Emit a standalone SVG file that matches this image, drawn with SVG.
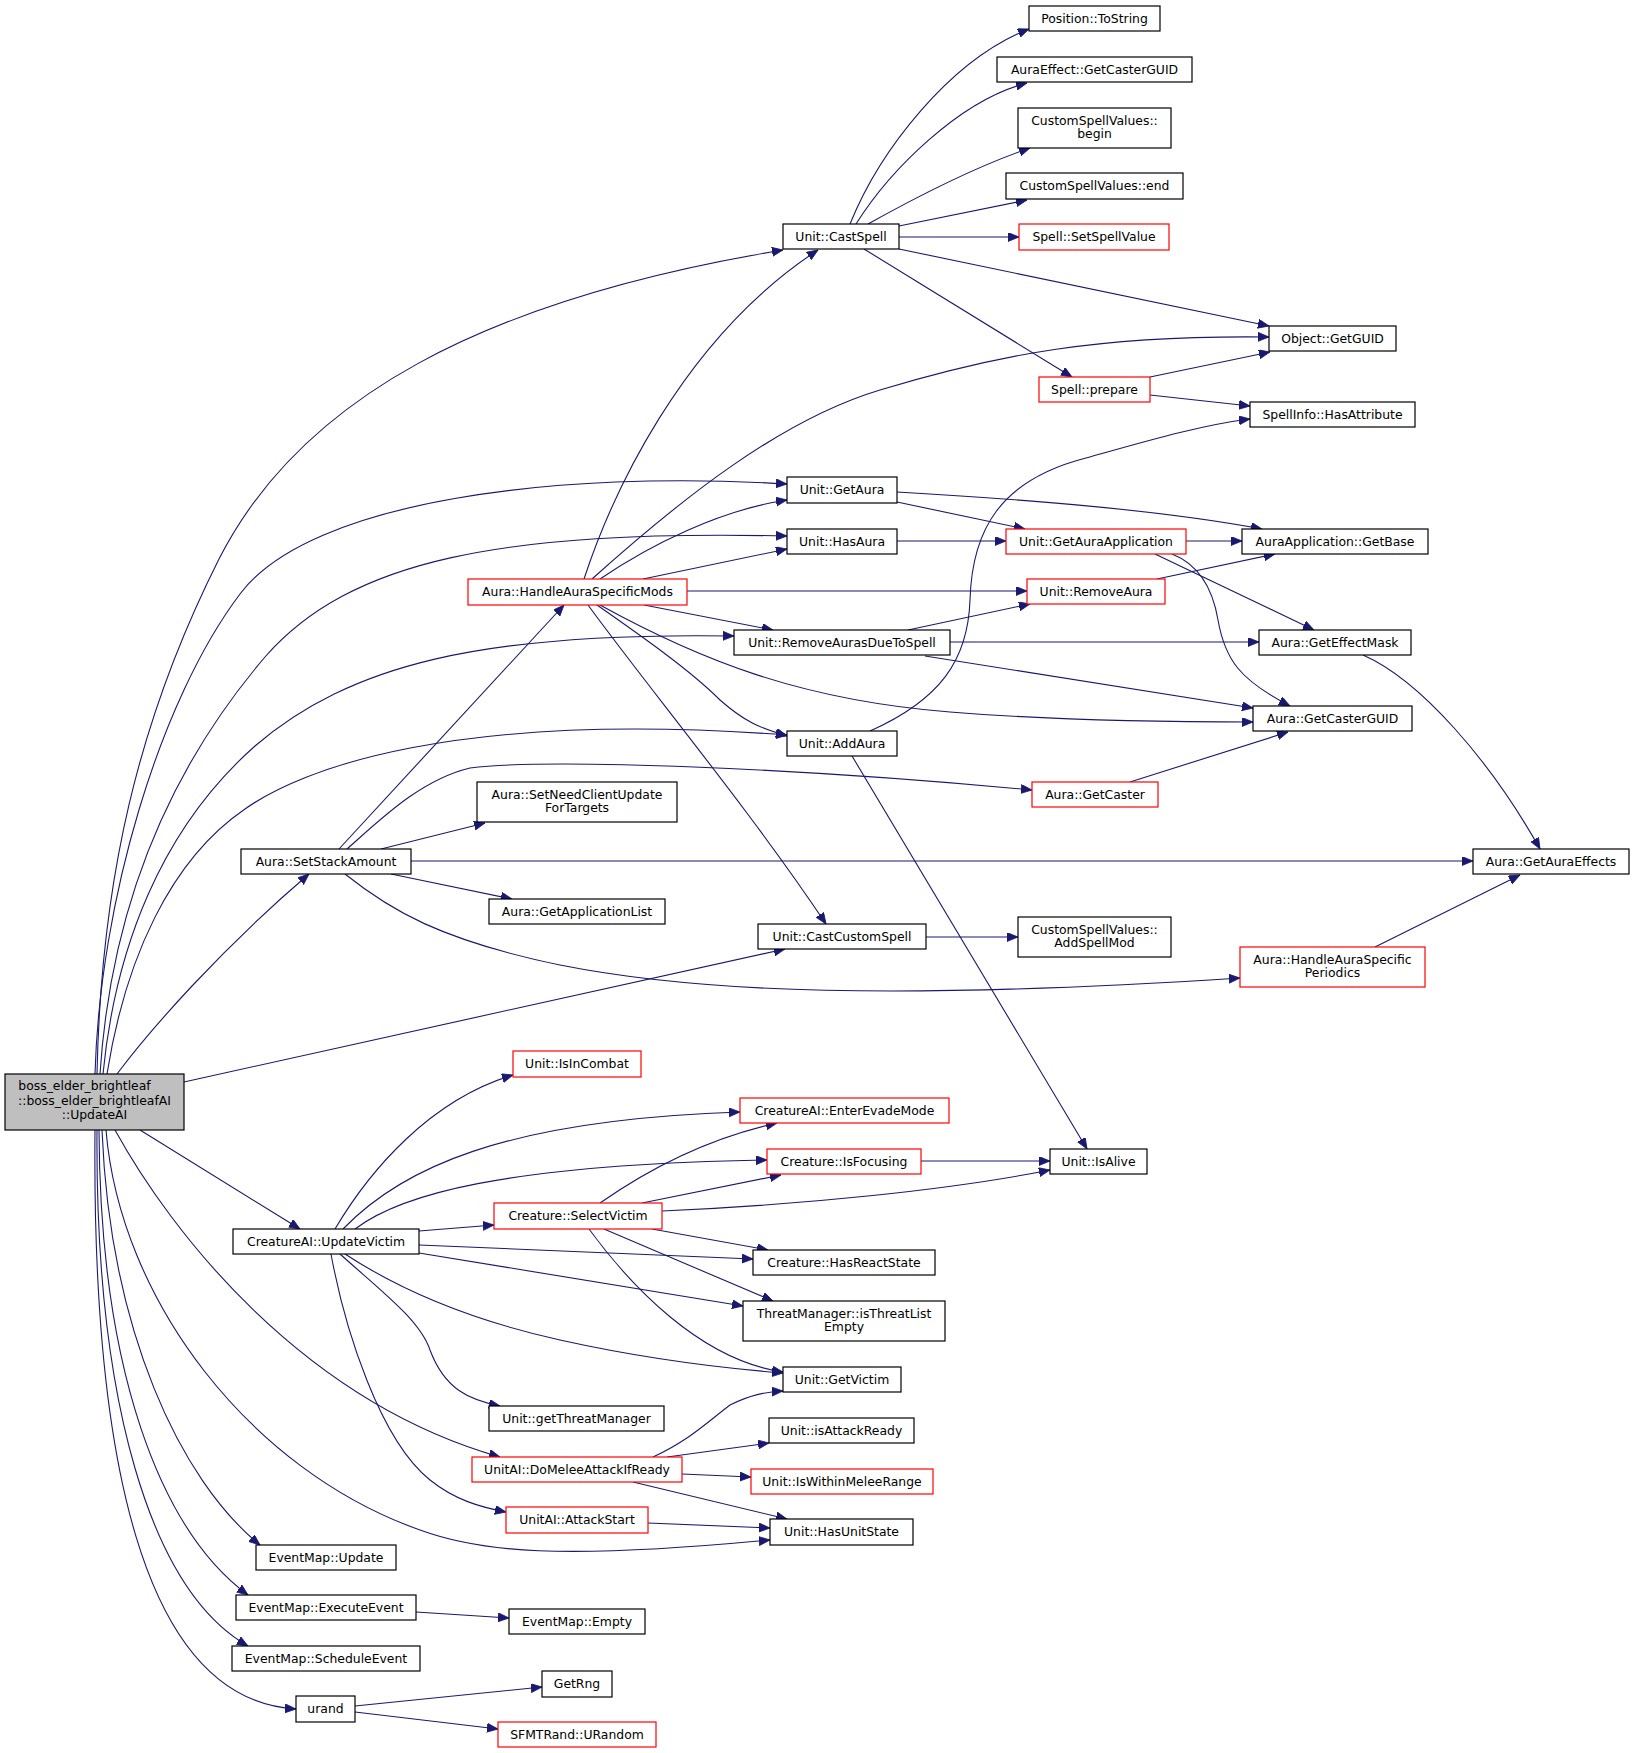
<svg xmlns="http://www.w3.org/2000/svg" width="1635" height="1753" viewBox="0 0 1635 1753">
<style>
rect.n{fill:#ffffff;stroke:#000000;stroke-width:1.2}
rect.r{fill:#ffffff;stroke:#ff0000;stroke-width:1.2}
rect.g{fill:#bfbfbf;stroke:#000000;stroke-width:1.2}
text{font-family:"DejaVu Sans","Liberation Sans",sans-serif;font-size:12.4px;fill:#000000;text-anchor:middle}
#edges path{fill:none;stroke:#191970;stroke-width:1.1;marker-end:url(#arr)}
</style>
<defs>
<marker id="arr" markerUnits="userSpaceOnUse" markerWidth="12" markerHeight="10" refX="11" refY="4.5" orient="auto">
<path d="M0,0 L11,4.5 L0,9 z" fill="#191970" stroke="#191970" stroke-width="0.8"/>
</marker>
</defs>
<rect width="1635" height="1753" fill="#ffffff"/>
<g id="edges">
<path d="M97,1074 C101,880 138,720 219,559 C300,400 480,300 783,250"/>
<path d="M95,1074 C100,900 160,700 240,594 C310,500 560,470 787,484"/>
<path d="M100,1074 C110,920 160,780 265,657 C350,560 500,530 787,536"/>
<path d="M103,1074 C115,950 160,830 255,746 C350,665 480,632 734,636"/>
<path d="M107,1074 C125,960 170,860 245,809 C300,770 450,710 787,735"/>
<path d="M117,1074 C150,1030 220,950 309,874"/>
<path d="M184,1082 C350,1045 600,990 785,949"/>
<path d="M140,1130 L300,1229"/>
<path d="M115,1130 C170,1230 300,1400 500,1457"/>
<path d="M106,1130 C120,1300 250,1470 420,1530 C480,1552 560,1560 770,1540"/>
<path d="M102,1130 C110,1330 180,1480 260,1545"/>
<path d="M99,1130 C100,1370 160,1530 248,1595"/>
<path d="M97,1130 C95,1400 150,1590 248,1646"/>
<path d="M95,1130 C92,1450 140,1700 296,1709"/>
<path d="M850,224 C880,150 950,60 1029,29"/>
<path d="M856,224 C890,170 960,100 1027,83"/>
<path d="M868,224 C920,195 980,165 1030,148"/>
<path d="M899,226 L1027,200"/>
<path d="M899,237 L1019,237"/>
<path d="M899,249 L1269,326"/>
<path d="M864,249 L1072,377"/>
<path d="M1150,377 L1270,352"/>
<path d="M1150,395 L1250,406"/>
<path d="M584,579 C610,500 680,340 818,250"/>
<path d="M592,579 C680,500 780,420 880,390 C1000,354 1100,335 1269,337"/>
<path d="M600,579 C650,545 720,510 787,500"/>
<path d="M643,579 L787,549"/>
<path d="M687,591 L1027,591"/>
<path d="M644,605 L773,630"/>
<path d="M597,605 C640,635 690,670 720,700 C745,722 760,728 787,736"/>
<path d="M600,605 C700,660 800,700 950,712 C1050,720 1150,722 1253,722"/>
<path d="M588,605 C650,690 750,810 826,924"/>
<path d="M897,502 L1025,529"/>
<path d="M897,492 C1000,498 1150,508 1262,529"/>
<path d="M897,541 L1006,541"/>
<path d="M1186,541 L1242,541"/>
<path d="M1155,554 L1314,630"/>
<path d="M1172,554 C1200,565 1213,590 1218,620 C1225,660 1240,680 1290,706"/>
<path d="M1157,579 L1275,554"/>
<path d="M908,630 L1030,604"/>
<path d="M950,642 L1259,642"/>
<path d="M925,656 L1253,708"/>
<path d="M1363,655 C1420,680 1490,760 1540,849"/>
<path d="M870,731 C940,700 968,660 970,600 C972,530 1000,480 1086,458 C1140,443 1200,425 1250,419"/>
<path d="M852,756 L1087,1149"/>
<path d="M1130,782 L1288,732"/>
<path d="M339,849 L564,605"/>
<path d="M347,849 C380,820 420,780 470,768 C550,758 800,768 1032,790"/>
<path d="M381,849 L485,823"/>
<path d="M391,874 L512,899"/>
<path d="M411,861 L1473,861"/>
<path d="M345,874 C390,910 440,940 560,965 C700,993 900,1000 1240,978"/>
<path d="M926,937 L1018,937"/>
<path d="M1375,947 L1520,875"/>
<path d="M335,1229 C370,1170 430,1100 513,1075"/>
<path d="M343,1229 C400,1170 500,1120 740,1112"/>
<path d="M355,1229 C400,1195 500,1165 767,1160"/>
<path d="M419,1231 L494,1225"/>
<path d="M419,1245 L753,1259"/>
<path d="M419,1253 L743,1306"/>
<path d="M345,1254 C400,1290 470,1320 560,1340 C650,1360 720,1368 783,1373"/>
<path d="M340,1254 C380,1290 420,1320 430,1350 C445,1390 470,1400 500,1406"/>
<path d="M331,1254 C345,1330 380,1440 430,1480 C455,1500 480,1507 506,1512"/>
<path d="M600,1203 C640,1175 700,1140 777,1123"/>
<path d="M642,1203 L781,1175"/>
<path d="M662,1211 C800,1205 950,1190 1050,1170"/>
<path d="M652,1229 L768,1250"/>
<path d="M604,1229 L773,1301"/>
<path d="M589,1229 C630,1285 700,1360 783,1372"/>
<path d="M921,1161 L1050,1161"/>
<path d="M653,1457 C690,1440 710,1420 730,1405 C750,1395 765,1392 783,1391"/>
<path d="M667,1457 L769,1443"/>
<path d="M682,1474 L751,1477"/>
<path d="M633,1482 L787,1519"/>
<path d="M648,1523 L770,1528"/>
<path d="M416,1612 L509,1618"/>
<path d="M355,1706 L542,1687"/>
<path d="M355,1712 L498,1729"/>
</g>
<g id="n_root"><rect class="g" x="5" y="1074" width="179" height="56"/><text x="84.5" y="1090">boss_elder_brightleaf</text><text x="94.5" y="1104.5">::boss_elder_brightleafAI</text><text x="94.5" y="1119">::UpdateAI</text></g>
<g id="n_tostring"><rect class="n" x="1029" y="6" width="131" height="25"/><text x="1094.5" y="23">Position::ToString</text></g>
<g id="n_aegcg"><rect class="n" x="997" y="57" width="195" height="25"/><text x="1094.5" y="74">AuraEffect::GetCasterGUID</text></g>
<g id="n_csvbegin"><rect class="n" x="1018" y="108" width="153" height="40"/><text x="1094.5" y="124.5">CustomSpellValues::</text><text x="1094.5" y="138">begin</text></g>
<g id="n_csvend"><rect class="n" x="1006" y="173" width="177" height="26"/><text x="1094.5" y="190">CustomSpellValues::end</text></g>
<g id="n_setspellvalue"><rect class="r" x="1019" y="224" width="150" height="26"/><text x="1094" y="241">Spell::SetSpellValue</text></g>
<g id="n_castspell"><rect class="n" x="783" y="224" width="116" height="25"/><text x="841" y="241">Unit::CastSpell</text></g>
<g id="n_getguid"><rect class="n" x="1269" y="326" width="127" height="25"/><text x="1332.5" y="343">Object::GetGUID</text></g>
<g id="n_prepare"><rect class="r" x="1039" y="377" width="111" height="25"/><text x="1094.5" y="394">Spell::prepare</text></g>
<g id="n_hasattr"><rect class="n" x="1250" y="402" width="165" height="25"/><text x="1332.5" y="419">SpellInfo::HasAttribute</text></g>
<g id="n_getaura"><rect class="n" x="787" y="477" width="110" height="26"/><text x="842" y="494">Unit::GetAura</text></g>
<g id="n_hasaura"><rect class="n" x="787" y="529" width="110" height="25"/><text x="842" y="546">Unit::HasAura</text></g>
<g id="n_gaa"><rect class="r" x="1006" y="529" width="180" height="25"/><text x="1096" y="546">Unit::GetAuraApplication</text></g>
<g id="n_getbase"><rect class="n" x="1242" y="529" width="186" height="25"/><text x="1335" y="546">AuraApplication::GetBase</text></g>
<g id="n_hasm"><rect class="r" x="468" y="579" width="219" height="26"/><text x="577.5" y="596">Aura::HandleAuraSpecificMods</text></g>
<g id="n_removeaura"><rect class="r" x="1027" y="579" width="138" height="25"/><text x="1096" y="596">Unit::RemoveAura</text></g>
<g id="n_rdts"><rect class="n" x="734" y="630" width="216" height="25"/><text x="842" y="647">Unit::RemoveAurasDueToSpell</text></g>
<g id="n_effmask"><rect class="n" x="1259" y="630" width="152" height="25"/><text x="1335" y="647">Aura::GetEffectMask</text></g>
<g id="n_agcg"><rect class="n" x="1253" y="706" width="159" height="25"/><text x="1332.5" y="723">Aura::GetCasterGUID</text></g>
<g id="n_addaura"><rect class="n" x="787" y="731" width="110" height="25"/><text x="842" y="748">Unit::AddAura</text></g>
<g id="n_getcaster"><rect class="r" x="1032" y="782" width="126" height="25"/><text x="1095" y="799">Aura::GetCaster</text></g>
<g id="n_setneed"><rect class="n" x="477" y="782" width="200" height="40"/><text x="577" y="798.5">Aura::SetNeedClientUpdate</text><text x="577" y="812">ForTargets</text></g>
<g id="n_setstack"><rect class="n" x="241" y="849" width="170" height="25"/><text x="326" y="866">Aura::SetStackAmount</text></g>
<g id="n_auraeffects"><rect class="n" x="1473" y="849" width="156" height="25"/><text x="1551" y="866">Aura::GetAuraEffects</text></g>
<g id="n_applist"><rect class="n" x="489" y="899" width="176" height="25"/><text x="577" y="916">Aura::GetApplicationList</text></g>
<g id="n_castcustom"><rect class="n" x="758" y="924" width="168" height="25"/><text x="842" y="941">Unit::CastCustomSpell</text></g>
<g id="n_addspellmod"><rect class="n" x="1018" y="917" width="153" height="40"/><text x="1094.5" y="933.5">CustomSpellValues::</text><text x="1094.5" y="947">AddSpellMod</text></g>
<g id="n_periodics"><rect class="r" x="1240" y="947" width="185" height="40"/><text x="1332.5" y="963.5">Aura::HandleAuraSpecific</text><text x="1332.5" y="977">Periodics</text></g>
<g id="n_isincombat"><rect class="r" x="513" y="1051" width="128" height="26"/><text x="577" y="1068">Unit::IsInCombat</text></g>
<g id="n_evade"><rect class="r" x="740" y="1098" width="209" height="25"/><text x="844.5" y="1115">CreatureAI::EnterEvadeMode</text></g>
<g id="n_focusing"><rect class="r" x="767" y="1149" width="154" height="25"/><text x="844" y="1166">Creature::IsFocusing</text></g>
<g id="n_isalive"><rect class="n" x="1050" y="1149" width="97" height="25"/><text x="1098.5" y="1166">Unit::IsAlive</text></g>
<g id="n_selectvictim"><rect class="r" x="494" y="1203" width="168" height="26"/><text x="578" y="1220">Creature::SelectVictim</text></g>
<g id="n_updatevictim"><rect class="n" x="233" y="1229" width="186" height="25"/><text x="326" y="1246">CreatureAI::UpdateVictim</text></g>
<g id="n_reactstate"><rect class="n" x="753" y="1250" width="182" height="25"/><text x="844" y="1267">Creature::HasReactState</text></g>
<g id="n_threatempty"><rect class="n" x="743" y="1301" width="202" height="40"/><text x="844" y="1317.5">ThreatManager::isThreatList</text><text x="844" y="1331">Empty</text></g>
<g id="n_getvictim"><rect class="n" x="783" y="1367" width="118" height="25"/><text x="842" y="1384">Unit::GetVictim</text></g>
<g id="n_getthreatmgr"><rect class="n" x="489" y="1406" width="175" height="25"/><text x="576.5" y="1423">Unit::getThreatManager</text></g>
<g id="n_isattackready"><rect class="n" x="769" y="1418" width="145" height="25"/><text x="841.5" y="1435">Unit::isAttackReady</text></g>
<g id="n_domelee"><rect class="r" x="472" y="1457" width="210" height="25"/><text x="577" y="1474">UnitAI::DoMeleeAttackIfReady</text></g>
<g id="n_meleerange"><rect class="r" x="751" y="1469" width="182" height="25"/><text x="842" y="1486">Unit::IsWithinMeleeRange</text></g>
<g id="n_attackstart"><rect class="r" x="506" y="1507" width="142" height="26"/><text x="577" y="1524">UnitAI::AttackStart</text></g>
<g id="n_hasunitstate"><rect class="n" x="770" y="1519" width="143" height="26"/><text x="841.5" y="1536">Unit::HasUnitState</text></g>
<g id="n_emupdate"><rect class="n" x="256" y="1545" width="140" height="25"/><text x="326" y="1562">EventMap::Update</text></g>
<g id="n_execevent"><rect class="n" x="236" y="1595" width="180" height="25"/><text x="326" y="1612">EventMap::ExecuteEvent</text></g>
<g id="n_emempty"><rect class="n" x="509" y="1609" width="136" height="25"/><text x="577" y="1626">EventMap::Empty</text></g>
<g id="n_schedule"><rect class="n" x="232" y="1646" width="188" height="25"/><text x="326" y="1663">EventMap::ScheduleEvent</text></g>
<g id="n_getrng"><rect class="n" x="542" y="1671" width="70" height="26"/><text x="577" y="1688">GetRng</text></g>
<g id="n_urand"><rect class="n" x="296" y="1696" width="59" height="26"/><text x="325.5" y="1713">urand</text></g>
<g id="n_urandom"><rect class="r" x="498" y="1722" width="158" height="25"/><text x="577" y="1739">SFMTRand::URandom</text></g>
</svg>
